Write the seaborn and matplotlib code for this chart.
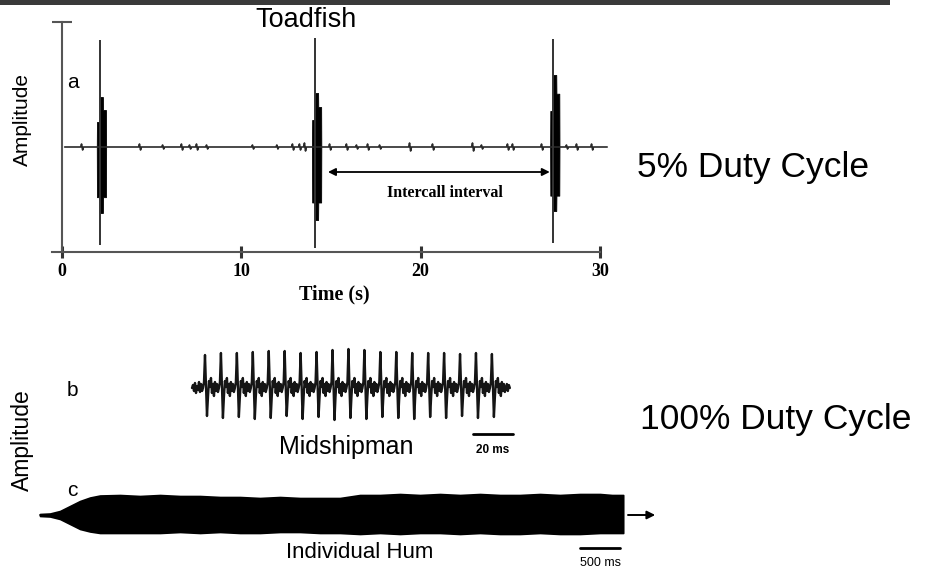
import numpy as np
import pandas as pd
import matplotlib
matplotlib.use("Agg")
import matplotlib.pyplot as plt
from matplotlib.patches import Rectangle
import seaborn as sns

# ---------------- data ----------------
# Panel a: toadfish boatwhistle calls (time in s, amplitude in arbitrary units)
call_times = [2.11, 14.11, 27.39]
spike_top = [1.07, 1.09, 1.08]
spike_bottom = [-0.98, -1.01, -0.96]
burst_top = [0.50, 0.54, 0.72]
burst_bottom = [-0.66, -0.73, -0.64]
burst_offsets = [-0.17, -0.16, -0.01, 0.0, 0.17, 0.18, 0.34, 0.35]
burst_profile_top = [0.0, 0.5, 0.5, 1.0, 1.0, 0.74, 0.74, 0.0]
burst_profile_bottom = [0.0, 0.76, 0.76, 1.0, 1.0, 0.76, 0.76, 0.0]
blip_times = [1.12, 4.35, 5.64, 6.69, 7.14, 7.53, 8.09, 10.65, 12.01, 12.88,
              13.27, 13.55, 14.95, 15.89, 16.45, 17.07, 17.74, 19.41, 20.69,
              22.92, 23.42, 24.87, 25.15, 26.77, 28.16, 28.72, 29.56]
blip_amps = [0.03, 0.03, 0.02, 0.03, 0.02, 0.03, 0.02, 0.02, 0.02, 0.03,
             0.03, 0.04, 0.03, 0.03, 0.02, 0.03, 0.02, 0.04, 0.03,
             0.04, 0.02, 0.03, 0.03, 0.03, 0.02, 0.03, 0.03]
baseline_start, baseline_end = 0.15, 30.4
interval_start, interval_end = 14.83, 27.2
x_ticks = [0, 10, 20, 30]
x_tick_labels = ["0", "10", "20", "30"]

# Panel b: midshipman hum waveform (time in ms, amplitude in px-like units)
mid_period_ms = 7.97
mid_peaks = [33, 35, 35, 36, 37, 37, 35, 36, 38, 39, 38, 36, 36, 35, 35, 35, 34, 35, 34]
mid_troughs = [-28, -30, -29, -31, -30, -28, -31, -29, -32, -30, -31, -29, -30, -31, -29, -30, -28, -30, -29]
mid_cycle_shape = [0, 6, 1, 2, -1, -9, 7, 1, 10, -5, 4, -8, 6, -3, 4, -4]  # index 2 = peak, 4 = trough
mid_lead = [0, 3, -3, 5, -5, 2, -2, 6, -4, 4, -3]
mid_tail = [0, 4, -3, 3, 0]
mid_step_ms = 0.5
mid_scale_ms = 20

# Panel c: individual hum envelope (time in ms)
hum_t = [0, 125, 250, 375, 500, 625, 750, 1000, 1250, 1500, 1750, 2000, 2250,
         2500, 2750, 3000, 3250, 3500, 3750, 4000, 4250, 4500, 4750, 5000,
         5250, 5500, 5750, 6000, 6250, 6500, 6750, 7000, 7150, 7290]
hum_top = [1, 1.5, 4, 9, 14, 17.5, 19.5, 20, 19, 20, 19, 19, 18, 18, 17, 18,
           17, 17, 17, 20, 20, 21, 20, 21, 20, 21, 20, 20, 21, 20, 21, 21, 20, 20]
hum_bottom = [-1, -1.5, -4, -9, -14, -16.5, -18, -18, -18, -18, -17, -18, -17,
              -18, -18, -17, -17, -18, -18, -19, -18, -19, -18, -18, -19, -18,
              -19, -19, -18, -19, -19, -18, -18, -18]
hum_scale_ms = 500
hum_arrow = [7350, 7690]

# ---------------- figure setup ----------------
sns.set_theme(style="white")
plt.rcParams["font.family"] = ["Liberation Sans", "DejaVu Sans"]
plt.rcParams["text.color"] = "black"
plt.rcParams["xtick.color"] = "black"
plt.rcParams["ytick.color"] = "black"

W, H = 925, 569
fig = plt.figure(figsize=(W / 100, H / 100), dpi=100)
fig.patch.set_facecolor("white")


def add_ax(l, t, r, b):
    return fig.add_axes([l / W, 1 - b / H, (r - l) / W, (b - t) / H])


def ftext(x, y, s, **kw):
    kw.setdefault("ha", "center")
    kw.setdefault("va", "center")
    kw.setdefault("color", "black")
    fig.text(x / W, 1 - y / H, s, **kw)


# dark photo strip at the very top
fig.patches.append(Rectangle((0, 1 - 5 / H), 890 / W, 5 / H, transform=fig.transFigure,
                             facecolor="#3a3a3a", edgecolor="none"))

# ---------------- panel a ----------------
axa = add_ax(45, 12, 615, 262)
pxs = (600 - 62) / 30.0
axa.set_xlim((45 - 62) / pxs, (615 - 62) / pxs)
axa.set_ylim((147 - 262) / 100, (147 - 12) / 100)
axa.set_facecolor("none")

# baseline with small blips
bt, ba = [baseline_start], [0.0]
for t, a in zip(blip_times, blip_amps):
    bt += [t - 0.08, t - 0.03, t + 0.03, t + 0.08]
    ba += [0.0, a, -a, 0.0]
bt.append(baseline_end)
ba.append(0.0)
sns.lineplot(x=bt, y=ba, ax=axa, color="#2a2a2a", lw=1.2, sort=False, estimator=None)

# calls
for t, st, sb, bt_, bb in zip(call_times, spike_top, spike_bottom, burst_top, burst_bottom):
    axa.vlines(t, sb, st, color="#333333", lw=1.4)
    xs = [t + o for o in burst_offsets]
    axa.fill_between(xs, [bt_ * p for p in burst_profile_top],
                     [bb * p for p in burst_profile_bottom],
                     color="black", lw=0.6, edgecolor="black")

# intercall interval arrow
axa.annotate("", xy=(interval_end, -0.25), xytext=(interval_start, -0.25),
             arrowprops=dict(arrowstyle="<|-|>", color="black", lw=1.3, mutation_scale=11,
                             shrinkA=0, shrinkB=0))
axa.text((interval_start + interval_end) / 2 + 0.35, -0.46, "Intercall interval",
         ha="center", va="center", fontsize=11.5, fontweight="bold",
         family="Liberation Serif", color="black")

# axes
for s in ["top", "right"]:
    axa.spines[s].set_visible(False)
axa.spines["left"].set_position(("data", 0))
axa.spines["left"].set_bounds(-1.05, 1.25)
axa.spines["bottom"].set_position(("data", -1.05))
axa.spines["bottom"].set_bounds(-0.56, 30)
for s in ["left", "bottom"]:
    axa.spines[s].set_color("#555555")
    axa.spines[s].set_linewidth(1.5)
axa.set_yticks([1.25])
axa.set_yticklabels([""])
axa.tick_params(axis="y", direction="inout", length=14, width=1.5, color="#555555", left=True)
axa.set_xticks(x_ticks)
axa.set_xticklabels(x_tick_labels)
axa.tick_params(axis="x", direction="inout", length=8, width=2.2, color="#333333",
                bottom=True, pad=4, labelcolor="black")
for lab in axa.get_xticklabels():
    lab.set_family("Liberation Serif")
    lab.set_fontweight("bold")
    lab.set_fontsize(13)
axa.grid(False)
axa.set_xlabel("")
axa.set_ylabel("")

ftext(334, 294, "Time (s)", fontsize=14.5, fontweight="bold", family="Liberation Serif")
ftext(22, 120, "Amplitude", fontsize=15, rotation=90)
ftext(73, 82, "a", fontsize=15)
ftext(306, 20, "Toadfish", fontsize=19.5)
ftext(637, 168, "5% Duty Cycle", fontsize=25.5, ha="left")

# ---------------- panel b ----------------
axb = add_ax(180, 340, 520, 470)
axb.set_xlim((180 - 203) / 2, (520 - 203) / 2)
axb.set_ylim(388 - 470, 388 - 340)
axb.axis("off")

mt, mv = [], []
for i, v in enumerate(mid_lead):
    mt.append(-(len(mid_lead) - i) * mid_step_ms)
    mv.append(v)
n = len(mid_cycle_shape)
for c, (pk, tr) in enumerate(zip(mid_peaks, mid_troughs)):
    for j, v in enumerate(mid_cycle_shape):
        if j == 2:
            v = pk
        elif j == 4:
            v = tr
        mt.append(c * mid_period_ms + j * mid_period_ms / n)
        mv.append(v)
end0 = len(mid_peaks) * mid_period_ms
for i, v in enumerate(mid_tail):
    mt.append(end0 + i * mid_step_ms)
    mv.append(v)
sns.lineplot(x=mt, y=mv, ax=axb, color="#151515", lw=1.7, sort=False, estimator=None)

axb.plot([135, 135 + mid_scale_ms], [-46, -46], color="black", lw=2)
axb.text(135 + mid_scale_ms / 2, -62, f"{mid_scale_ms} ms", ha="center", va="center",
         fontsize=8.5, fontweight="bold", color="black")

ftext(346, 447, "Midshipman", fontsize=18)
ftext(22, 440, "Amplitude", fontsize=16.5, rotation=90)
ftext(72, 390, "b", fontsize=15)
ftext(72, 491, "c", fontsize=15)
ftext(640, 420, "100% Duty Cycle", fontsize=25.5, ha="left")

# ---------------- panel c ----------------
axc = add_ax(30, 478, 680, 569)
axc.set_xlim((30 - 40) * 12.5, (680 - 40) * 12.5)
axc.set_ylim(515 - 569, 515 - 478)
axc.axis("off")

axc.fill_between(hum_t, hum_top, hum_bottom, color="black", lw=1.2, edgecolor="black")
sns.lineplot(x=hum_t, y=[0] * len(hum_t), ax=axc, color="black", lw=1.2, estimator=None)
axc.annotate("", xy=(hum_arrow[1], 0), xytext=(hum_arrow[0], 0),
             arrowprops=dict(arrowstyle="-|>", color="black", lw=1.4, mutation_scale=12,
                             shrinkA=0, shrinkB=0))
axc.plot([6750, 6750 + hum_scale_ms], [-33, -33], color="black", lw=2)
axc.text(6750 + hum_scale_ms / 2, -48, f"{hum_scale_ms} ms", ha="center", va="center",
         fontsize=9, color="black")
axc.text(4000, -38, "Individual Hum", ha="center", va="center", fontsize=16, color="black")

fig.savefig("out.png", dpi=100)
